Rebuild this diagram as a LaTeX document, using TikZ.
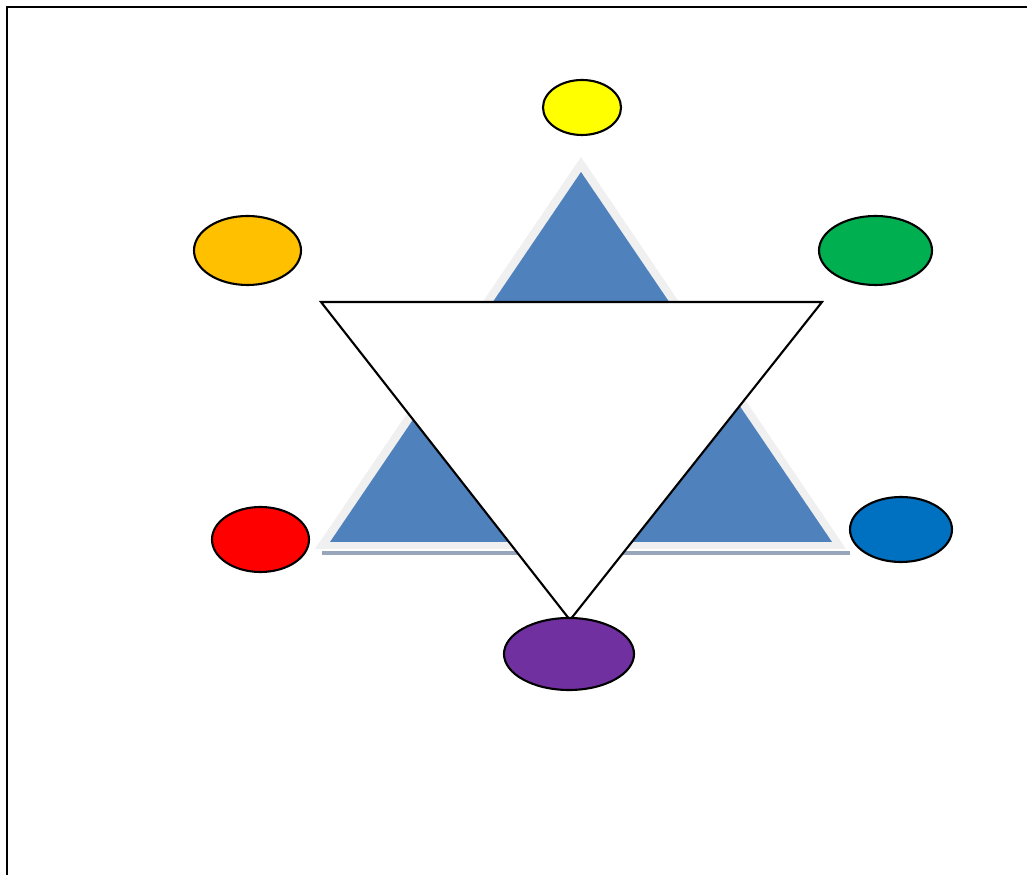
\documentclass[tikz,border=0pt]{standalone}
\usepackage{tikz}
\usetikzlibrary{shapes.geometric}

\definecolor{dotyellow}{HTML}{FFFF00}
\definecolor{dotorange}{HTML}{FFC000}
\definecolor{dotgreen}{HTML}{00B050}
\definecolor{dotred}{HTML}{FF0000}
\definecolor{dotblue}{HTML}{0070C0}
\definecolor{dotpurple}{HTML}{7030A0}
\definecolor{triblue}{HTML}{4F81BD}
\definecolor{tririm}{HTML}{F0F0F0}
\definecolor{trishadow}{HTML}{97A6BD}

\begin{document}
\begin{tikzpicture}[
  x=0.1mm,y=-0.1mm,
  dot/.style={ellipse, draw, line width=0.6pt, inner sep=0pt},
  frameline/.style={line width=0.6pt}
]
\useasboundingbox (0,0) rectangle (1027,875);
% frame
\draw[frameline] (7,875) -- (7,7) -- (1027,7);
% upright triangle with rim and shadow
\fill[trishadow] (322,551) rectangle (850,555);
\fill[tririm] (581,157) -- (846,549) -- (315,549) -- cycle;
\fill[triblue] (581,172) -- (832,542) -- (330,542) -- cycle;
% inverted triangle
\draw[fill=white, line width=0.6pt, line join=miter] (321,302) -- (822,302) -- (570,620) -- cycle;
% coloured dots
\node[dot, fill=dotyellow, minimum width=78*0.1mm, minimum height=55*0.1mm] (yellow) at (582,107.5) {};
\node[dot, fill=dotorange, minimum width=107*0.1mm, minimum height=69*0.1mm] (orange) at (247.5,250.5) {};
\node[dot, fill=dotgreen, minimum width=113*0.1mm, minimum height=69*0.1mm] (green) at (875.5,250.5) {};
\node[dot, fill=dotred, minimum width=97*0.1mm, minimum height=65*0.1mm] (red) at (260.5,539.5) {};
\node[dot, fill=dotblue, minimum width=102*0.1mm, minimum height=65*0.1mm] (blue) at (901,529.5) {};
\node[dot, fill=dotpurple, minimum width=130*0.1mm, minimum height=72*0.1mm] (purple) at (569,654) {};
\end{tikzpicture}
\end{document}
